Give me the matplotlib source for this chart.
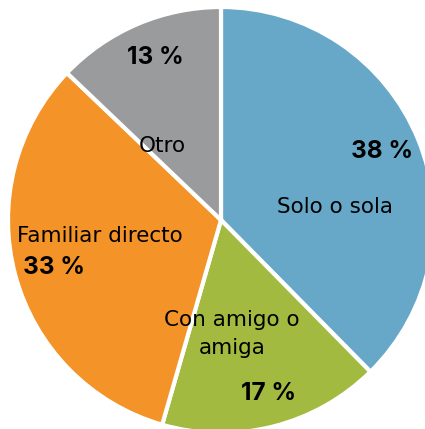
import matplotlib
matplotlib.use("Agg")
import matplotlib.pyplot as plt

# datos
categorias = ["Solo o sola", "Con amigo o\namiga", "Familiar directo", "Otro"]
porcentajes = [38, 17, 33, 13]
colores = ["#67A8C8", "#A1BA3F", "#F49328", "#9A9B9D"]

plt.rcParams['font.family'] = ['DejaVu Sans']

W, H = 425, 429
cx, cy, r = 221, 220, 213

fig = plt.figure(figsize=(W / 100, H / 100), dpi=100)
ax = fig.add_axes([0, 0, 1, 1])

ax.pie(porcentajes, colors=colores, startangle=90, counterclock=False,
       radius=1.0, wedgeprops=dict(edgecolor="white", linewidth=3))

# posiciones de las etiquetas en pixeles de la imagen
pos_nombre = [(335, 207), (232, 334), (100, 236), (162, 146)]
pos_pct = [(382, 151), (269, 394), (54, 267), (155, 57)]


def a_datos(px, py):
    return (px - cx) / r, (cy - py) / r


for nombre, pct, pn, pp in zip(categorias, porcentajes, pos_nombre, pos_pct):
    x, y = a_datos(*pn)
    ax.text(x, y, nombre, ha="center", va="center", fontsize=15.5,
            color="black", linespacing=1.55)
    x, y = a_datos(*pp)
    ax.text(x, y, f"{pct} %", ha="center", va="center", fontsize=17.5,
            fontweight="bold", color="black", family=["Inter", "DejaVu Sans"])

ax.set_xlim((0 - cx) / r, (W - cx) / r)
ax.set_ylim((cy - H) / r, cy / r)
ax.set_aspect("auto")
ax.axis("off")

fig.savefig("out.png", dpi=100)
